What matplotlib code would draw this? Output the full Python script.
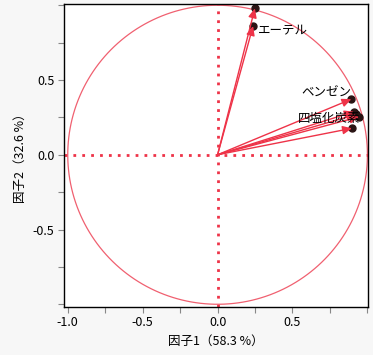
import numpy as np
import matplotlib.pyplot as plt

plt.rcParams['font.family'] = ['Noto Sans CJK JP', 'DejaVu Sans']

# loadings
factor1 = [0.249, 0.237, 0.893, 0.909, 0.925, 0.944, 0.897]
factor2 = [0.979, 0.861, 0.372, 0.288, 0.270, 0.254, 0.177]
names = ['', 'エーテル', 'ベンゼン', '四塩化炭素', '', '', '']

xlabel = '因子1（58.3 %）'
ylabel = '因子2（32.6 %）'

red = '#ee3348'

fig = plt.figure(figsize=(3.73, 3.55), dpi=100, facecolor='#f7f7f7')
ax = fig.add_axes([0.1716, 0.1366, 0.815, 0.852])
ax.set_facecolor('white')

# unit circle
t = np.linspace(0, 2 * np.pi, 400)
ax.plot(np.cos(t), np.sin(t), color='#f06070', lw=0.9, zorder=1)

# dotted zero lines
ax.axhline(0, color=red, lw=2, ls=(0, (1, 2.2)), zorder=1)
ax.axvline(0, color=red, lw=2, ls=(0, (1, 2.2)), zorder=1)

# vectors
for x, y in zip(factor1, factor2):
    ax.plot(x, y, 'o', color='#2a1414', ms=5, zorder=2)
    ax.annotate('', xy=(x, y), xytext=(0, 0),
                arrowprops=dict(arrowstyle='-|>,head_length=0.55,head_width=0.25',
                                color=red, lw=1, mutation_scale=10,
                                shrinkA=0, shrinkB=0),
                zorder=3)

# labels
ax.text(factor1[1] + 0.03, factor2[1] - 0.03, names[1], fontsize=9,
        ha='left', va='center', zorder=4)
ax.text(factor1[2] - 0.0, factor2[2] + 0.04, names[2], fontsize=9,
        ha='right', va='center', zorder=4)
ax.text(factor1[3] + 0.045, factor2[3] - 0.045, names[3], fontsize=9,
        ha='right', va='center', zorder=4)

ax.set_xlim(-1.025, 1.004)
ax.set_ylim(-1.015, 1.008)

ticks = np.arange(-1.0, 1.01, 0.25)
ax.set_xticks(ticks)
ax.set_xticklabels(['-1.0', '', '-0.5', '', '0.0', '', '0.5', '', ''])
ax.set_yticks(ticks)
ax.set_yticklabels(['', '', '-0.5', '', '0.0', '', '0.5', '', ''])
ax.tick_params(direction='out', length=4, color='#888888', labelsize=9, pad=3)

for s in ax.spines.values():
    s.set_color('black')
    s.set_linewidth(1)

ax.set_xlabel(xlabel, fontsize=9, labelpad=4)
ax.set_ylabel(ylabel, fontsize=9, labelpad=4)

fig.savefig('out.png', dpi=100, facecolor=fig.get_facecolor())
